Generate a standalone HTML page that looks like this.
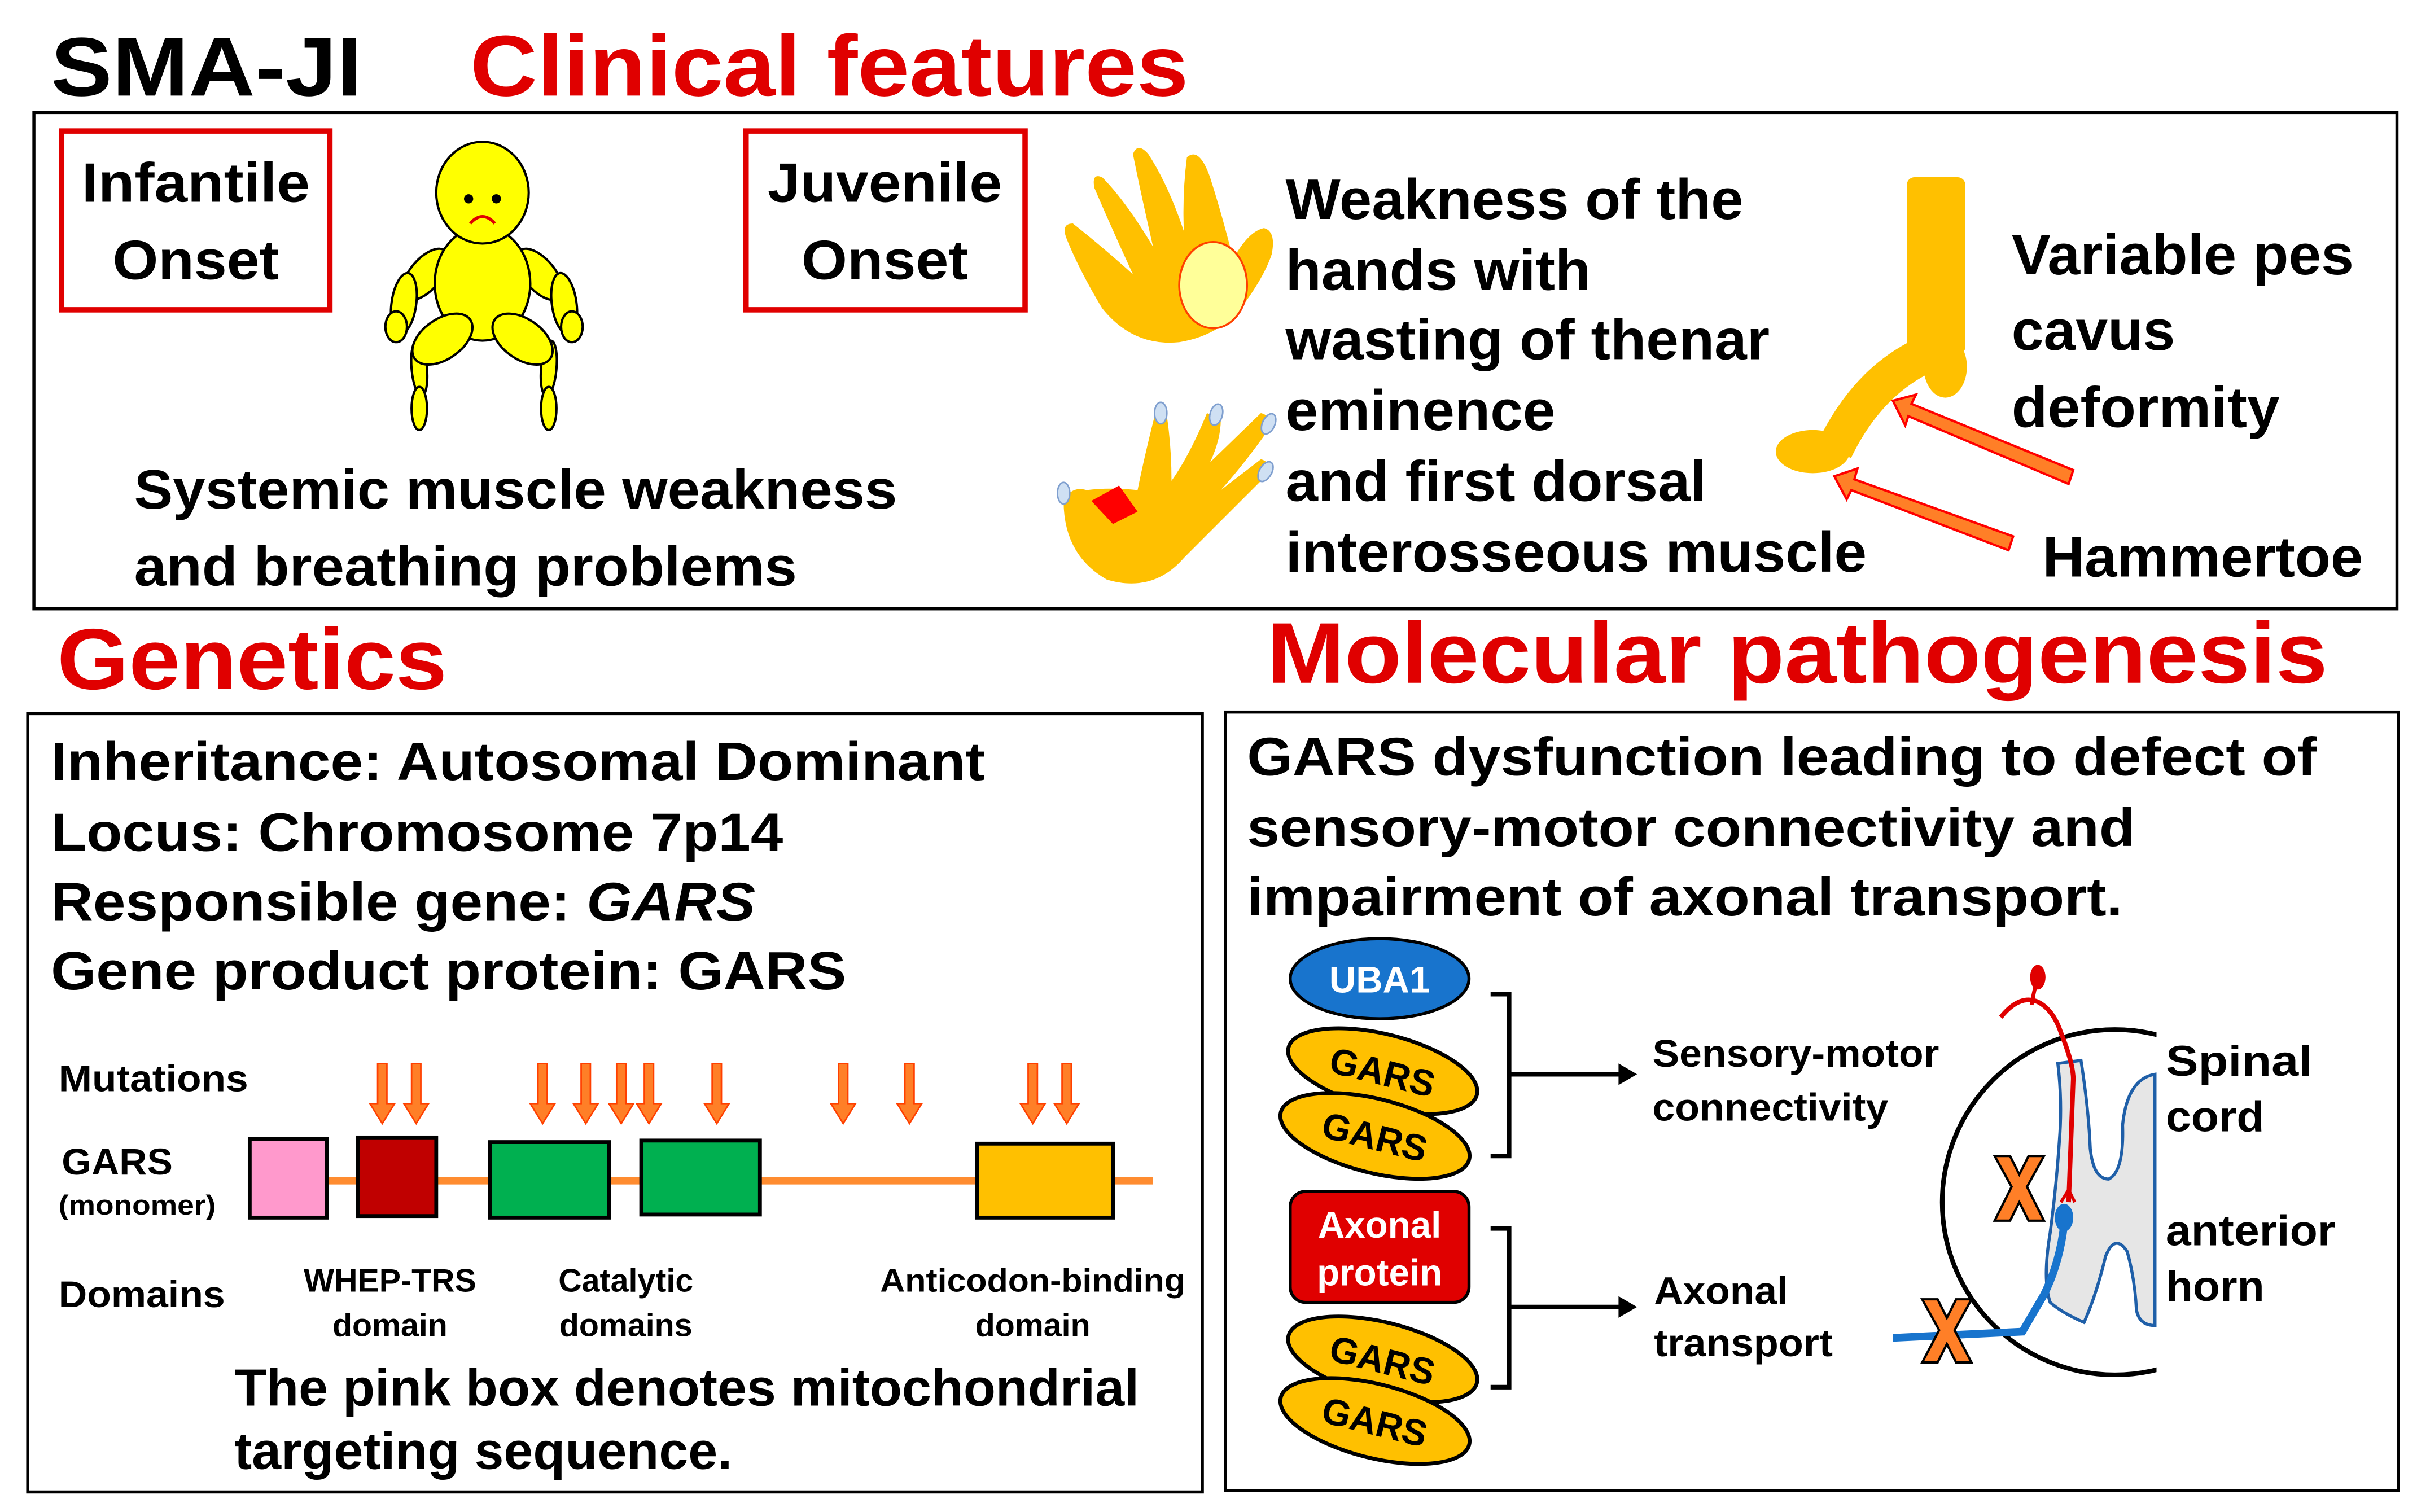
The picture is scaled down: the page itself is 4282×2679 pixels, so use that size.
<!DOCTYPE html>
<html><head><meta charset="utf-8"><style>
html,body{margin:0;padding:0;background:#fff}
svg{display:block}
text{font-family:"Liberation Sans",Arial,sans-serif;font-weight:bold}
</style></head><body>
<svg width="4282" height="2679" viewBox="0 0 1568 981" xmlns="http://www.w3.org/2000/svg">
<rect width="1568" height="981" fill="#fff"/>
<text x="33" y="62" font-size="54" fill="#000" textLength="202" lengthAdjust="spacingAndGlyphs">SMA-JI</text>
<text x="305" y="62" font-size="56" fill="#e00000" textLength="466" lengthAdjust="spacingAndGlyphs">Clinical features</text>
<rect x="22" y="73" width="1533" height="322" fill="none" stroke="#000" stroke-width="2"/>
<rect x="40" y="85" width="174" height="116" fill="none" stroke="#e00000" stroke-width="3.5"/>
<text x="127" y="131" font-size="36" text-anchor="middle" textLength="148" lengthAdjust="spacingAndGlyphs">Infantile</text>
<text x="127" y="181" font-size="36" text-anchor="middle" textLength="108" lengthAdjust="spacingAndGlyphs">Onset</text>
<rect x="484" y="85" width="181" height="116" fill="none" stroke="#e00000" stroke-width="3.5"/>
<text x="574" y="131" font-size="36" text-anchor="middle" textLength="152" lengthAdjust="spacingAndGlyphs">Juvenile</text>
<text x="574" y="181" font-size="36" text-anchor="middle" textLength="108" lengthAdjust="spacingAndGlyphs">Onset</text>
<!-- baby -->
<g fill="#ffff00" stroke="#000" stroke-width="1.5">
<ellipse cx="272" cy="239" rx="5" ry="18" transform="rotate(-5 272 239)"/>
<ellipse cx="272" cy="265" rx="5" ry="14"/>
<ellipse cx="356" cy="239" rx="5" ry="18" transform="rotate(5 356 239)"/>
<ellipse cx="356" cy="265" rx="5" ry="14"/>
<ellipse cx="276" cy="178" rx="10" ry="20" transform="rotate(40 276 178)"/>
<ellipse cx="350" cy="178" rx="10" ry="20" transform="rotate(-40 350 178)"/>
<ellipse cx="262" cy="197" rx="8" ry="20" transform="rotate(8 262 197)"/>
<ellipse cx="366" cy="197" rx="8" ry="20" transform="rotate(-8 366 197)"/>
<ellipse cx="257" cy="212" rx="7" ry="10"/>
<ellipse cx="371" cy="212" rx="7" ry="10"/>
<ellipse cx="313" cy="184" rx="31" ry="37"/>
<ellipse cx="287" cy="220" rx="22" ry="13" transform="rotate(-35 287 220)"/>
<ellipse cx="339" cy="220" rx="22" ry="13" transform="rotate(35 339 220)"/>
<ellipse cx="313" cy="125" rx="30" ry="33"/>
</g>
<circle cx="304" cy="129" r="3"/><circle cx="322" cy="129" r="3"/>
<path d="M305 145 Q313 136 321 145" fill="none" stroke="#e00000" stroke-width="2"/>
<text x="87" y="330" font-size="36" textLength="495" lengthAdjust="spacingAndGlyphs">Systemic muscle weakness</text>
<text x="87" y="380" font-size="36" textLength="430" lengthAdjust="spacingAndGlyphs">and breathing problems</text>
<!-- hand top -->
<path d="M715 200 Q735 225 765 222 Q790 218 805 200 Q820 180 825 165 Q828 150 820 148 Q810 150 800 168 Q793 140 785 115 Q778 95 770 102 Q767 125 768 150 Q758 120 745 100 Q738 92 735 100 Q740 125 748 160 Q730 130 715 115 Q708 112 710 122 Q722 150 735 178 Q715 160 696 145 Q688 145 692 155 Q700 175 715 200 Z" fill="#ffc000"/>
<ellipse cx="787" cy="185" rx="22" ry="28" fill="#ffff99" stroke="#ff4000" stroke-width="1.3"/>
<!-- hand bottom -->
<path d="M690 325 Q690 360 718 376 Q748 385 768 362 Q795 335 820 310 Q826 300 818 298 L792 318 Q808 300 822 280 Q826 270 818 268 L785 300 Q792 285 792 272 L783 268 Q772 295 760 312 Q760 290 757 270 L749 270 Q742 298 738 318 Q720 316 705 318 Q695 315 690 325 Z" fill="#ffc000"/>
<g fill="#cfe0f3" stroke="#7f9fcf" stroke-width="1">
<ellipse cx="753" cy="268" rx="4" ry="7"/><ellipse cx="789" cy="269" rx="4" ry="7" transform="rotate(15 789 269)"/>
<ellipse cx="821" cy="306" rx="4" ry="7" transform="rotate(30 821 306)"/><ellipse cx="823" cy="275" rx="4" ry="7" transform="rotate(25 823 275)"/>
<ellipse cx="690" cy="320" rx="4" ry="7"/>
</g>
<path d="M708 325 L726 315 L738 332 L722 340 Z" fill="#ff0000"/>
<g font-size="37">
<text x="834" y="142" textLength="297" lengthAdjust="spacingAndGlyphs">Weakness of the</text>
<text x="834" y="188" textLength="198" lengthAdjust="spacingAndGlyphs">hands with</text>
<text x="834" y="233" textLength="314" lengthAdjust="spacingAndGlyphs">wasting of thenar</text>
<text x="834" y="279" textLength="175" lengthAdjust="spacingAndGlyphs">eminence</text>
<text x="834" y="325" textLength="273" lengthAdjust="spacingAndGlyphs">and first dorsal</text>
<text x="834" y="371" textLength="377" lengthAdjust="spacingAndGlyphs">interosseous muscle</text>
<text x="1305" y="178" textLength="222" lengthAdjust="spacingAndGlyphs">Variable pes</text>
<text x="1305" y="227" textLength="106" lengthAdjust="spacingAndGlyphs">cavus</text>
<text x="1305" y="277" textLength="174" lengthAdjust="spacingAndGlyphs">deformity</text>
<text x="1325" y="374" textLength="208" lengthAdjust="spacingAndGlyphs">Hammertoe</text>
</g>
<!-- foot -->
<rect x="1237" y="115" width="38" height="115" rx="5" fill="#ffc000"/>
<path d="M1262 225 Q1215 240 1190 292" fill="none" stroke="#ffc000" stroke-width="24"/>
<ellipse cx="1262" cy="238" rx="14" ry="20" fill="#ffc000"/>
<ellipse cx="1176" cy="293" rx="24" ry="14" fill="#ffc000"/>
<g fill="#ff7f27" stroke="#ff0000" stroke-width="1.5">
<path d="M1345 305 L1240 262 L1243 256 L1228 260 L1236 276 L1238 270 L1342 314 Z"/>
<path d="M1306 348 L1203 311 L1205 304 L1190 309 L1198 324 L1201 318 L1303 357 Z"/>
</g>
<!-- Genetics -->
<text x="37" y="447" font-size="56" fill="#e00000" textLength="253" lengthAdjust="spacingAndGlyphs">Genetics</text>
<text x="822" y="443" font-size="56" fill="#e00000" textLength="688" lengthAdjust="spacingAndGlyphs">Molecular pathogenesis</text>
<rect x="18" y="463" width="762" height="505" fill="none" stroke="#000" stroke-width="2"/>
<rect x="795" y="462" width="761" height="505" fill="none" stroke="#000" stroke-width="2"/>
<g font-size="35">
<text x="33" y="506" textLength="606" lengthAdjust="spacingAndGlyphs">Inheritance: Autosomal Dominant</text>
<text x="33" y="552" textLength="475" lengthAdjust="spacingAndGlyphs">Locus: Chromosome 7p14</text>
<text x="33" y="597" textLength="457" lengthAdjust="spacingAndGlyphs">Responsible gene: <tspan font-style="italic">GARS</tspan></text>
<text x="33" y="642" textLength="516" lengthAdjust="spacingAndGlyphs">Gene product protein: GARS</text>
<text x="809" y="503" textLength="694" lengthAdjust="spacingAndGlyphs">GARS dysfunction leading to defect of</text>
<text x="809" y="549" textLength="576" lengthAdjust="spacingAndGlyphs">sensory-motor connectivity and</text>
<text x="809" y="594" textLength="568" lengthAdjust="spacingAndGlyphs">impairment of axonal transport.</text>
</g>
<text x="38" y="708" font-size="24" textLength="123" lengthAdjust="spacingAndGlyphs">Mutations</text>
<text x="40" y="762" font-size="24" textLength="72" lengthAdjust="spacingAndGlyphs">GARS</text>
<text x="38" y="788" font-size="18" textLength="102" lengthAdjust="spacingAndGlyphs">(monomer)</text>
<text x="38" y="848" font-size="24" textLength="108" lengthAdjust="spacingAndGlyphs">Domains</text>
<line x1="210" y1="766" x2="748" y2="766" stroke="#ff8c30" stroke-width="5"/>
<g stroke="#000" stroke-width="2.5">
<rect x="162" y="739" width="50" height="51" fill="#ff99cc"/>
<rect x="232" y="738" width="51" height="51" fill="#c00000"/>
<rect x="318" y="741" width="77" height="49" fill="#00b050"/>
<rect x="416" y="740" width="77" height="48" fill="#00b050"/>
<rect x="634" y="742" width="88" height="48" fill="#ffc000"/>
</g>
<g fill="#ff7f27" stroke="#ff4000" stroke-width="1">
<path id="ar" d="M-3 690 L3 690 L3 716 L8 716 L0 729 L-8 716 L-3 716 Z" transform="translate(248 0)"/>
<use href="#ar" x="22"/><use href="#ar" x="104"/><use href="#ar" x="132"/><use href="#ar" x="155"/><use href="#ar" x="173"/><use href="#ar" x="217"/><use href="#ar" x="299"/><use href="#ar" x="342"/><use href="#ar" x="422"/><use href="#ar" x="444"/>
</g>
<g font-size="21" text-anchor="middle">
<text x="253" y="838">WHEP-TRS</text><text x="253" y="867">domain</text>
<text x="406" y="838">Catalytic</text><text x="406" y="867">domains</text>
<text x="670" y="838" textLength="198" lengthAdjust="spacingAndGlyphs">Anticodon-binding</text><text x="670" y="867">domain</text>
</g>
<text x="152" y="912" font-size="34" textLength="587" lengthAdjust="spacingAndGlyphs">The pink box denotes mitochondrial</text>
<text x="152" y="953" font-size="34" textLength="323" lengthAdjust="spacingAndGlyphs">targeting sequence.</text>
<!-- molecular -->
<ellipse cx="895" cy="635" rx="58" ry="26" fill="#1874cd" stroke="#000" stroke-width="2"/>
<text x="895" y="644" font-size="24" fill="#fff" text-anchor="middle">UBA1</text>
<g fill="#ffc000" stroke="#000" stroke-width="2.5" font-size="24">
<ellipse cx="897" cy="695" rx="63" ry="24" transform="rotate(14 897 695)"/>
<text x="897" y="704" text-anchor="middle" fill="#000" stroke="none" transform="rotate(14 897 695)">GARS</text>
<ellipse cx="892" cy="737" rx="63" ry="24" transform="rotate(14 892 737)"/>
<text x="892" y="746" text-anchor="middle" fill="#000" stroke="none" transform="rotate(14 892 737)">GARS</text>
<ellipse cx="897" cy="882" rx="63" ry="24" transform="rotate(14 897 882)"/>
<text x="897" y="891" text-anchor="middle" fill="#000" stroke="none" transform="rotate(14 897 882)">GARS</text>
<ellipse cx="892" cy="922" rx="63" ry="24" transform="rotate(14 892 922)"/>
<text x="892" y="931" text-anchor="middle" fill="#000" stroke="none" transform="rotate(14 892 922)">GARS</text>
</g>
<rect x="837" y="773" width="116" height="72" rx="10" fill="#e00000" stroke="#000" stroke-width="2"/>
<text x="895" y="803" font-size="24" fill="#fff" text-anchor="middle">Axonal</text>
<text x="895" y="834" font-size="24" fill="#fff" text-anchor="middle">protein</text>
<g fill="none" stroke="#000" stroke-width="3">
<path d="M967 645 L979 645 L979 750 L967 750 M979 697 L1052 697"/>
<path d="M967 797 L979 797 L979 900 L967 900 M979 848 L1052 848"/>
</g>
<path d="M1050 690 L1062 697 L1050 704 Z"/><path d="M1050 841 L1062 848 L1050 855 Z"/>
<g font-size="25">
<text x="1072" y="692" textLength="186" lengthAdjust="spacingAndGlyphs">Sensory-motor</text>
<text x="1072" y="727" textLength="153" lengthAdjust="spacingAndGlyphs">connectivity</text>
<text x="1073" y="846" textLength="87" lengthAdjust="spacingAndGlyphs">Axonal</text>
<text x="1073" y="880" textLength="116" lengthAdjust="spacingAndGlyphs">transport</text>
</g>
<!-- spinal cord -->
<path d="M1335 690 L1350 688 Q1355 720 1356 745 Q1358 765 1368 765 Q1378 760 1377 730 Q1380 700 1398 697 L1398 860 Q1388 860 1386 850 Q1385 830 1380 812 Q1372 800 1366 815 Q1360 840 1352 858 Q1338 852 1330 845 Q1325 830 1330 800 Q1334 770 1336 740 Q1338 715 1335 690 Z" fill="#e6e6e6" stroke="#1f5fa8" stroke-width="2"/>
<circle cx="1372" cy="780" r="112" fill="none" stroke="#000" stroke-width="3"/>
<rect x="1399" y="660" width="150" height="240" fill="#fff"/>
<path d="M1298 660 Q1310 645 1322 650 Q1332 655 1337 670 Q1345 690 1345 700 L1342 780" fill="none" stroke="#e00000" stroke-width="3"/>
<path d="M1318 652 Q1320 640 1322 635" stroke="#e00000" stroke-width="2.5" fill="none"/>
<ellipse cx="1322" cy="634" rx="5" ry="8" fill="#e00000"/>
<path d="M1337 780 L1342 772 L1346 780" fill="none" stroke="#e00000" stroke-width="2"/>
<ellipse cx="1339" cy="790" rx="6" ry="9" fill="#1874cd"/>
<path d="M1339 795 Q1336 820 1326 840 L1312 864 L1228 868" fill="none" stroke="#1874cd" stroke-width="5"/>
<g fill="#ff7f27" stroke="#000" stroke-width="1.5">
<path d="M1294 750 L1304 750 L1310 762 L1316 750 L1326 750 L1315 770 L1326 792 L1316 792 L1310 780 L1304 792 L1294 792 L1305 770 Z"/>
<path d="M1247 843 L1257 843 L1263 855 L1269 843 L1279 843 L1268 863 L1279 884 L1269 884 L1263 872 L1257 884 L1247 884 L1258 863 Z"/>
</g>
<g font-size="28">
<text x="1405" y="698" textLength="95" lengthAdjust="spacingAndGlyphs">Spinal</text>
<text x="1405" y="734" textLength="64" lengthAdjust="spacingAndGlyphs">cord</text>
<text x="1405" y="808" textLength="110" lengthAdjust="spacingAndGlyphs">anterior</text>
<text x="1405" y="844" textLength="64" lengthAdjust="spacingAndGlyphs">horn</text>
</g>
</svg>
</body></html>
